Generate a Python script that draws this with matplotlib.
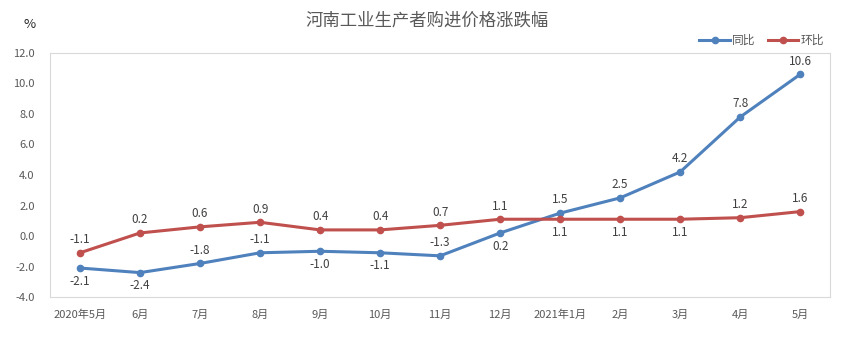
import numpy as np
import matplotlib.pyplot as plt

plt.rcParams['font.family'] = ['Noto Sans CJK SC', 'DejaVu Sans']

months = ['2020年5月', '6月', '7月', '8月', '9月', '10月', '11月', '12月',
          '2021年1月', '2月', '3月', '4月', '5月']
yoy = [-2.1, -2.4, -1.8, -1.1, -1.0, -1.1, -1.3, 0.2, 1.5, 2.5, 4.2, 7.8, 10.6]
mom = [-1.1, 0.2, 0.6, 0.9, 0.4, 0.4, 0.7, 1.1, 1.1, 1.1, 1.1, 1.2, 1.6]
# label placement: 1 above, -1 below
yoy_pos = [-1, -1, 1, 1, -1, -1, 1, -1, 1, 1, 1, 1, 1]
mom_pos = [1, 1, 1, 1, 1, 1, 1, 1, -1, -1, -1, 1, 1]

blue = '#4F81BD'
red = '#C0504D'
txt = '#404040'
grey = '#595959'

fig = plt.figure(figsize=(8.55, 3.53), dpi=100)
ax = fig.add_axes([0.0585, 0.1586, 0.9125, 0.6913])

x = np.arange(len(months))
ax.plot(x, yoy, color=blue, lw=2.2, marker='o', ms=4.5, label='同比', zorder=3)
ax.plot(x, mom, color=red, lw=2.2, marker='o', ms=4.5, label='环比', zorder=3)

for xi, v, p in zip(x, yoy, yoy_pos):
    ax.annotate(f'{v:.1f}', (xi, v), xytext=(0, 9.5 * p), textcoords='offset points',
                ha='center', va='center', fontsize=8.5, color=txt)
for xi, v, p in zip(x, mom, mom_pos):
    ax.annotate(f'{v:.1f}', (xi, v), xytext=(0, 9.5 * p), textcoords='offset points',
                ha='center', va='center', fontsize=8.5, color=txt)

ax.set_xlim(-0.5, 12.5)
ax.set_ylim(-4, 12)
ax.set_yticks(np.arange(-4, 12.1, 2))
ax.set_yticklabels([f'{t:.1f}' for t in np.arange(-4, 12.1, 2)])
ax.set_xticks(x)
ax.set_xticklabels(months)
ax.tick_params(length=0, labelsize=8, colors=grey)
ax.tick_params(axis='x', pad=9)
ax.tick_params(axis='y', pad=11)
for s in ax.spines.values():
    s.set_color('#D9D9D9')
    s.set_linewidth(0.8)

fig.text(0.5, 0.943, '河南工业生产者购进价格涨跌幅', ha='center', va='center',
         fontsize=12.5, color=grey)
fig.text(0.035, 0.93, '%', ha='center', va='center', fontsize=9.5, color='#262626')

ax.legend(loc='lower right', bbox_to_anchor=(1.0, 1.0), ncol=2, frameon=False,
          fontsize=8.5, handlelength=2.6, handletextpad=0.2, columnspacing=1.0,
          borderaxespad=0.1, labelcolor=grey)

fig.savefig('out.png', dpi=100)
